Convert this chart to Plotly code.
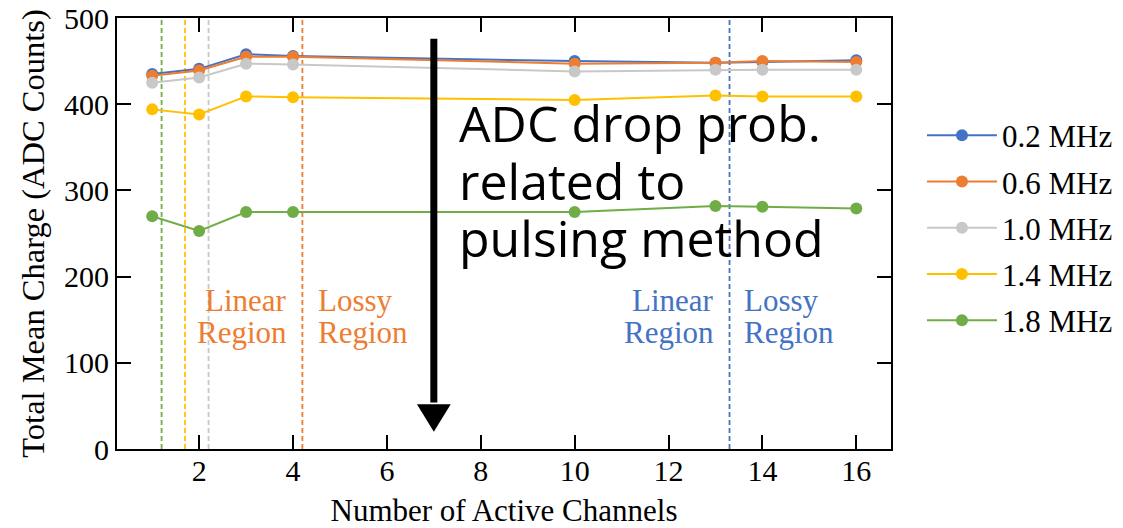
import plotly.graph_objects as go

# ---------------- data ----------------
channels = [1, 2, 3, 4, 10, 13, 14, 16]
series_names = ["0.2 MHz", "0.6 MHz", "1.0 MHz", "1.4 MHz", "1.8 MHz"]
charge_02 = [435, 441, 458, 456, 450, 448, 449, 451]
charge_06 = [433, 439, 455, 455, 447, 448, 450, 449]
charge_10 = [425, 431, 447, 446, 438, 440, 440, 440]
charge_14 = [394, 388, 409, 408, 405, 410, 409, 409]
charge_18 = [270, 253, 275, 275, 275, 282, 281, 279]
series_values = [charge_02, charge_06, charge_10, charge_14, charge_18]
colors = ["#4472C4", "#ED7D31", "#C8C8C8", "#FFC000", "#70AD47"]

# saturation (linear/lossy boundary) per series
boundary_x = [13.3, 4.2, 2.2, 1.7, 1.2]

x_ticks = [2, 4, 6, 8, 10, 12, 14, 16]
y_ticks = [0, 100, 200, 300, 400, 500]

# arrow annotation (data coordinates)
ARROW_X = 7
ARROW_TOP = 476
ARROW_HEAD_BASE = 52
ARROW_TIP = 20
ARROW_HALF_W = 0.36

SERIF = "Liberation Serif, Times New Roman, serif"

fig = go.Figure()

for i, (name, vals, col) in enumerate(zip(series_names, series_values, colors)):
    fig.add_trace(go.Scatter(
        x=channels, y=vals, name=name, mode="lines+markers",
        line=dict(color=col, width=2),
        marker=dict(color=col, size=12),
        legendgroup=f"g{i}",
    ))

shapes = []
for bx, col in zip(boundary_x, colors):
    shapes.append(dict(type="line", xref="x", yref="paper", x0=bx, x1=bx, y0=0, y1=1,
                       line=dict(color=col, width=1.8, dash="5px,3px"), layer="below"))

# arrow
shapes.append(dict(type="line", xref="x", yref="y", x0=ARROW_X, x1=ARROW_X,
                   y0=ARROW_TOP, y1=ARROW_HEAD_BASE + 2, line=dict(color="black", width=7)))
shapes.append(dict(type="path", xref="x", yref="y",
                   path=f"M {ARROW_X - ARROW_HALF_W},{ARROW_HEAD_BASE} L {ARROW_X + ARROW_HALF_W},{ARROW_HEAD_BASE} L {ARROW_X},{ARROW_TIP} Z",
                   fillcolor="black", line=dict(color="black", width=0)))

annotations = []
def region_label(text_top, text_bot, x, anchor, col):
    annotations.append(dict(x=x, y=172, xref="x", yref="y", text=text_top, showarrow=False,
                            xanchor=anchor, yanchor="middle", font=dict(family=SERIF, size=31, color=col)))
    annotations.append(dict(x=x, y=135, xref="x", yref="y", text=text_bot, showarrow=False,
                            xanchor=anchor, yanchor="middle", font=dict(family=SERIF, size=31, color=col)))

region_label("Linear", "Region", 3.92, "right", colors[1])
region_label("Lossy", "Region", 4.48, "left", colors[1])
region_label("Linear", "Region", 13.02, "right", colors[0])
region_label("Lossy", "Region", 13.57, "left", colors[0])

big_lines = ["ADC drop prob.", "related to", "pulsing method"]
big_y = [378, 311, 245]
for txt, yy in zip(big_lines, big_y):
    annotations.append(dict(x=7.5, y=yy, xref="x", yref="y", text=txt, showarrow=False,
                            xanchor="left", yanchor="middle",
                            font=dict(family="Open Sans, sans-serif", size=50, color="black")))

fig.update_layout(
    width=1123, height=528,
    margin=dict(l=117, r=232, t=18, b=79, autoexpand=False),
    paper_bgcolor="white", plot_bgcolor="white",
    font=dict(family=SERIF, size=30, color="black"),
    shapes=shapes, annotations=annotations,
    showlegend=True,
    legend=dict(x=1.04, y=0.79, xanchor="left", yanchor="top",
                font=dict(family=SERIF, size=31, color="black"),
                traceorder="grouped", tracegroupgap=3, itemwidth=70,
                bgcolor="rgba(0,0,0,0)"),
    xaxis=dict(range=[0.25, 16.74], tickvals=x_ticks, ticktext=[str(t) for t in x_ticks],
               ticks="inside", ticklen=14, tickwidth=1.5, tickcolor="black",
               showline=True, linecolor="black", linewidth=2, mirror="ticks",
               showgrid=False, zeroline=False, automargin=False,
               tickfont=dict(family=SERIF, size=30), ticklabelstandoff=-6,
               title=dict(text="Number of Active Channels", font=dict(family=SERIF, size=31), standoff=16)),
    yaxis=dict(range=[0, 500], tickvals=y_ticks, ticktext=[str(t) for t in y_ticks],
               ticks="inside", ticklen=14, tickwidth=1.5, tickcolor="black",
               showline=True, linecolor="black", linewidth=2, mirror="ticks",
               showgrid=False, zeroline=False, automargin=False,
               tickfont=dict(family=SERIF, size=30),
               title=dict(text="Total Mean Charge (ADC Counts)", font=dict(family=SERIF, size=32.5), standoff=10)),
)

fig.write_html("out.html")
